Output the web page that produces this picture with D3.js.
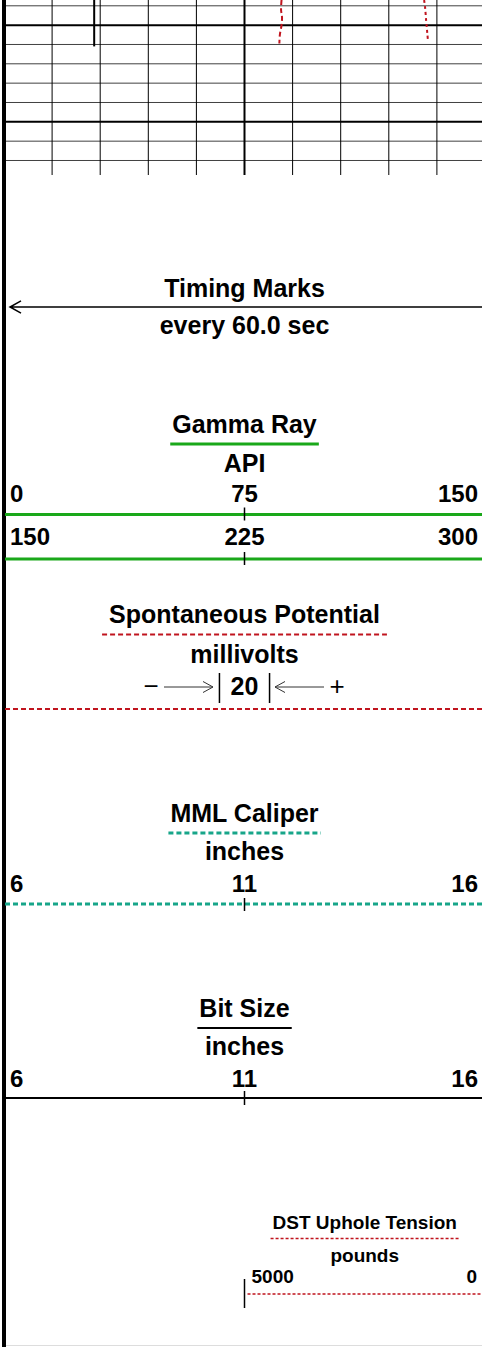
<!DOCTYPE html>
<html>
<head>
<meta charset="utf-8">
<script src="https://cdn.jsdelivr.net/npm/d3@7"></script>
<style>
  html, body { margin: 0; padding: 0; background: #fff; }
  svg text { font-family: "Liberation Sans", Arial, sans-serif; font-weight: bold; fill: #000; }
</style>
</head>
<body>
<svg id="log"></svg>
<script>
// ---- data ----
const depthTicks = [4048, 4050, 4052, 4054, 4056, 4058, 4060, 4062, 4064]
const depthMajor = [4050, 4060]
const gridDivisions = [1, 2, 3, 4, 5, 6, 7, 8, 9]

// bit size curve (inches)
const bitDepth = [4047.4, 4052.2]
const bitValue = [7.875, 7.875]

// spontaneous potential curve (mV)
const spDepth = [4047.4, 4048.4, 4049.2, 4050.0, 4051.0, 4051.9]
const spValue = [15.4, 15.2, 15.6, 15.4, 14.7, 14.5]

// DST uphole tension curve (pounds)
const dstDepth = [4047.4, 4048.2, 4049.5, 4050.3, 4051.0, 4051.7]
const dstValue = [1266, 1245, 1224, 1209, 1197, 1183]

const grScale1 = ["0", "75", "150"]
const grScale2 = ["150", "225", "300"]
const calScale = ["6", "11", "16"]
const bitScale = ["6", "11", "16"]
const dstScale = ["5000", "0"]

const width = 482, height = 1347
const left = 4, right = 485
const red = "#c0141e", green = "#1aa81a", teal = "#17a589"

const svg = d3.select("#log").attr("width", width).attr("height", height)

const y = d3.scaleLinear().domain([4047.4, 4065.5]).range([0, 175])
const xDiv = d3.scaleLinear().domain([0, 10]).range([left, right])
const xGr = d3.scaleLinear().domain([0, 150]).range([left, right])
const xSp = d3.scaleLinear().domain([-100, 100]).range([left, right])
const xCal = d3.scaleLinear().domain([6, 16]).range([left, right])
const xBit = d3.scaleLinear().domain([6, 16]).range([left, right])
const xDst = d3.scaleLinear().domain([5000, 0]).range([xDiv(5), right])

// ---- grid ----
const grid = svg.append("g")
grid.selectAll("line.h")
  .data(depthTicks)
  .join("line")
  .attr("x1", left).attr("x2", width)
  .attr("y1", d => y(d)).attr("y2", d => y(d))
  .attr("stroke", "#000")
  .attr("stroke-width", d => depthMajor.includes(d) ? 2 : 1)
  .attr("stroke-opacity", d => depthMajor.includes(d) ? 1 : 0.75)

grid.selectAll("line.v")
  .data(gridDivisions)
  .join("line")
  .attr("x1", d => xDiv(d)).attr("x2", d => xDiv(d))
  .attr("y1", 0).attr("y2", 175)
  .attr("stroke", "#000")
  .attr("stroke-width", d => d == 5 ? 2 : 1)

// ---- curves ----
const curve = (depths, values, xs) => d3.line()
  .x((d, i) => xs(values[i]))
  .y(d => y(d))
  .curve(d3.curveCatmullRom)(depths)

svg.append("path")
  .attr("d", curve(bitDepth, bitValue, xBit))
  .attr("fill", "none").attr("stroke", "#000").attr("stroke-width", 2)

svg.append("path")
  .attr("d", curve(spDepth, spValue, xSp))
  .attr("fill", "none").attr("stroke", red).attr("stroke-width", 2)
  .attr("stroke-dasharray", "5,3")

svg.append("path")
  .attr("d", curve(dstDepth, dstValue, xDst))
  .attr("fill", "none").attr("stroke", red).attr("stroke-width", 2)
  .attr("stroke-dasharray", "3,3")

// left edge of track
svg.append("line")
  .attr("x1", left).attr("x2", left).attr("y1", 0).attr("y2", height)
  .attr("stroke", "#000").attr("stroke-width", 4)

// bottom border
svg.append("line")
  .attr("x1", 6).attr("x2", width).attr("y1", 1345.5).attr("y2", 1345.5)
  .attr("stroke", "#ddd").attr("stroke-width", 1)

// ---- header helpers ----
const cx = xDiv(5)

function title(txt, yy, size, x0) {
  return svg.append("text").attr("x", x0 || cx).attr("y", yy)
    .attr("text-anchor", "middle").attr("font-size", size || 25).text(txt)
}

function underline(t, yy, stroke, w, dash, pad) {
  const b = t.node().getBBox()
  pad = pad || 2
  svg.append("line")
    .attr("x1", b.x - pad).attr("x2", b.x + b.width + pad)
    .attr("y1", yy).attr("y2", yy)
    .attr("stroke", stroke).attr("stroke-width", w)
    .attr("stroke-dasharray", dash || null)
}

function scaleRow(labels, xs, yy, size) {
  const dom = xs.domain()
  const pos = labels.length == 3 ? [dom[0], (dom[0] + dom[1]) / 2, dom[1]] : [dom[0], dom[1]]
  const anchors = labels.length == 3 ? ["start", "middle", "end"] : ["start", "end"]
  const offs = labels.length == 3 ? [6, 0, -7] : [7, -8]
  svg.append("g").selectAll("text")
    .data(labels)
    .join("text")
    .attr("x", (d, i) => xs(pos[i]) + offs[i])
    .attr("y", yy)
    .attr("text-anchor", (d, i) => anchors[i])
    .attr("font-size", size || 24)
    .text(d => d)
}

function scaleLine(yy, stroke, w, dash) {
  svg.append("line")
    .attr("x1", left + 1).attr("x2", width).attr("y1", yy).attr("y2", yy)
    .attr("stroke", stroke).attr("stroke-width", w)
    .attr("stroke-dasharray", dash || null)
}

function centerTick(yy, up, down, xx) {
  svg.append("line")
    .attr("x1", xx || cx).attr("x2", xx || cx)
    .attr("y1", yy - up).attr("y2", yy + down)
    .attr("stroke", "#000").attr("stroke-width", 1.5)
}

function arrow(x1, x2, yy, w, head, color) {
  const dir = x2 > x1 ? -1 : 1
  svg.append("path")
    .attr("d", `M${x1},${yy}L${x2},${yy}M${x2 + dir * head},${yy - head * 0.55}L${x2},${yy}L${x2 + dir * head},${yy + head * 0.55}`)
    .attr("fill", "none").attr("stroke", color).attr("stroke-width", w)
}

// ---- Timing Marks ----
title("Timing Marks", 297)
arrow(width, 10, 307, 1.5, 11, "#000")
title("every 60.0 sec", 334)

// ---- Gamma Ray ----
const gr = title("Gamma Ray", 433)
underline(gr, 444, green, 3)
title("API", 472)
scaleRow(grScale1, xGr, 502)
scaleLine(514.5, green, 3)
centerTick(514.5, 7, 6)
scaleRow(grScale2, xGr, 545)
scaleLine(559, green, 3)
centerTick(559, 7, 6)

// ---- Spontaneous Potential ----
const sp = title("Spontaneous Potential", 623)
underline(sp, 634.5, red, 2, "5,3", 7)
title("millivolts", 663)
title("20", 695)
svg.append("text").attr("x", 151).attr("y", 695).attr("text-anchor", "middle")
  .attr("font-size", 26).style("font-weight", "normal").text("\u2212")
svg.append("text").attr("x", 337).attr("y", 695).attr("text-anchor", "middle")
  .attr("font-size", 26).style("font-weight", "normal").text("+")
arrow(164, 213, 687, 1, 10, "#333")
arrow(324, 275, 687, 1, 10, "#333")
centerTick(688, 15, 15, xSp(-10) - 1)
centerTick(688, 15, 15, xSp(10) + 1)
scaleLine(709, red, 2, "5,3")

// ---- MML Caliper ----
const cal = title("MML Caliper", 822)
underline(cal, 833, teal, 3, "5,3")
title("inches", 860)
scaleRow(calScale, xCal, 892)
scaleLine(904, teal, 3, "5,3")
centerTick(904, 6, 7)

// ---- Bit Size ----
const bit = title("Bit Size", 1017)
underline(bit, 1028, "#000", 2)
title("inches", 1055)
scaleRow(bitScale, xBit, 1087)
scaleLine(1098, "#000", 2)
centerTick(1098, 7, 7)

// ---- DST Uphole Tension ----
const dcx = (xDst.range()[0] + xDst.range()[1]) / 2
const dst = title("DST Uphole Tension", 1229, 19, dcx)
underline(dst, 1238.5, red, 1.5, "3,2")
title("pounds", 1262, 19, dcx)
scaleRow(dstScale, xDst, 1283, 19)
svg.append("line")
  .attr("x1", xDst.range()[0] + 3).attr("x2", width).attr("y1", 1294).attr("y2", 1294)
  .attr("stroke", red).attr("stroke-width", 1.5).attr("stroke-dasharray", "3,2")
centerTick(1294, 15, 14, xDst.range()[0])
</script>
</body>
</html>
